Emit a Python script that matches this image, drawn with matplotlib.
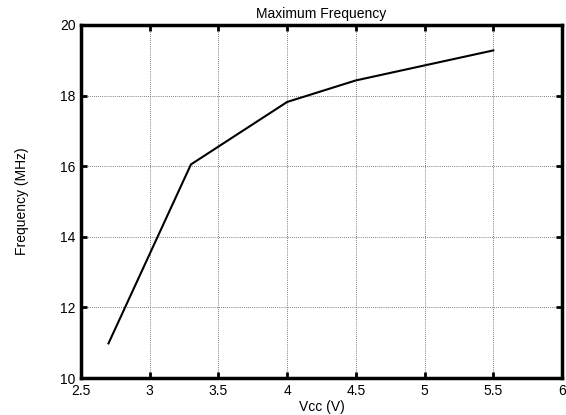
import matplotlib
matplotlib.use("Agg")
import matplotlib.pyplot as plt

vcc = [2.7, 3.3, 4.0, 4.5, 5.5]
freq = [10.98, 16.05, 17.82, 18.43, 19.28]
xticks = [2.5, 3, 3.5, 4, 4.5, 5, 5.5, 6]
xtick_labels = ["2.5", "3", "3.5", "4", "4.5", "5", "5.5", "6"]
yticks = [10, 12, 14, 16, 18, 20]
ytick_labels = ["10", "12", "14", "16", "18", "20"]

plt.rcParams['font.family'] = ['Liberation Sans', 'DejaVu Sans']
fig = plt.figure(figsize=(5.66, 4.15), dpi=100)
ax = fig.add_axes([81/566, 1-378/415, (562-81)/566, (378-25)/415])
ax.plot(vcc, freq, color='black', lw=1.5)
ax.set_xlim(2.5, 6)
ax.set_ylim(10, 20)
ax.set_xticks(xticks)
ax.set_xticklabels(xtick_labels)
ax.set_yticks(yticks)
ax.set_yticklabels(ytick_labels)
ax.grid(True, color='#555555', linestyle=(0, (1, 1.5)), linewidth=0.6)
for s in ax.spines.values():
    s.set_linewidth(2.5)
ax.tick_params(direction='in', length=4, width=2, top=True, right=True, labelsize=10, pad=4)
ax.set_xlabel("Vcc (V)", fontsize=10, labelpad=2)
ax.set_ylabel("Frequency (MHz)", fontsize=10, labelpad=22)
ax.set_title("Maximum Frequency", fontsize=10, pad=5)
fig.savefig("out.png", dpi=100)
